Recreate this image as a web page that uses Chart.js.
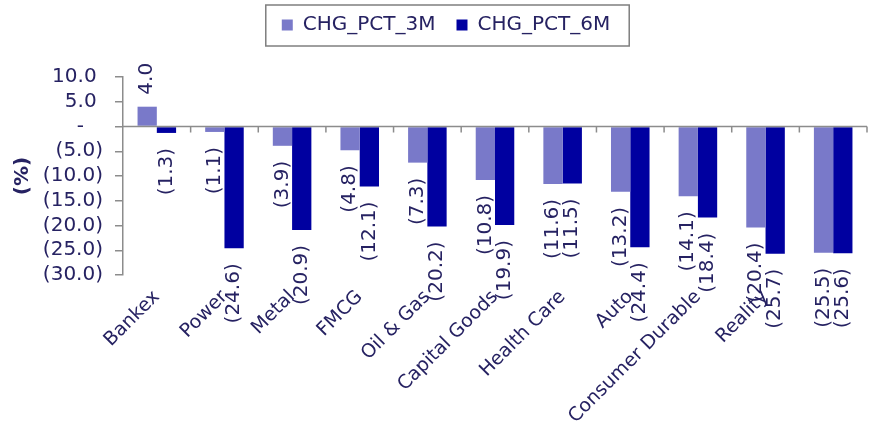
<html>
<script src="https://cdn.jsdelivr.net/npm/chart.js@4.4.0/dist/chart.umd.min.js"></script>
<style>
  body { margin: 0; background: white; }
  #wrap { width: 875px; height: 426px; }
</style>
<body>
  <div id="wrap"><canvas id="sectorChart"></canvas></div>
</body>
<script>
  // sector returns, % change over 3 and 6 months
  var sectors = ["Bankex", "Power", "Metal", "FMCG", "Oil & Gas", "Capital Goods", "Health Care", "Auto", "Consumer Durable", "Reality", ""];
  var chgPct3M = [4.0, -1.1, -3.9, -4.8, -7.3, -10.8, -11.6, -13.2, -14.1, -20.4, -25.5];
  var chgPct6M = [-1.3, -24.6, -20.9, -12.1, -20.2, -19.9, -11.5, -24.4, -18.4, -25.7, -25.6];
  var yTicks = [10, 5, 0, -5, -10, -15, -20, -25, -30];

  var textColor = "#262262";
  var axisColor = "#8c8c8c";
  var fontFamily = "'DejaVu Sans', sans-serif";
  var fontSize = 20;

  function fmtValue(v) {
    if (v == 0) return "-";
    if (v < 0) return "(" + Math.abs(v).toFixed(1) + ")";
    return v.toFixed(1);
  }

  // excel style: positives leave room for the ")" so they line up
  function fmtTick(v) {
    if (v == 0) return "-\u2007\u2008";
    if (v > 0) return v.toFixed(1) + "\u2008";
    return fmtValue(v);
  }

  // zero line with the little category ticks under it
  var zeroLine = {
    id: "zeroLine",
    afterDatasetsDraw: function(chart) {
      var ctx = chart.ctx;
      var xs = chart.scales.x;
      var y0 = chart.scales.y.getPixelForValue(0);
      ctx.save();
      ctx.strokeStyle = axisColor;
      ctx.lineWidth = 1.5;
      ctx.beginPath();
      ctx.moveTo(chart.chartArea.left, y0);
      ctx.lineTo(chart.chartArea.right, y0);
      for (var i = 1; i <= sectors.length; i++) {
        var bx = xs.getPixelForValue(i - 0.5);
        ctx.moveTo(bx, y0);
        ctx.lineTo(bx, y0 + 6);
      }
      ctx.stroke();
      ctx.restore();
    }
  };

  // rotated value labels at the end of every bar
  var barLabels = {
    id: "barLabels",
    afterDatasetsDraw: function(chart) {
      var ctx = chart.ctx;
      ctx.save();
      ctx.fillStyle = textColor;
      ctx.font = fontSize + "px " + fontFamily;
      ctx.textBaseline = "middle";
      chart.data.datasets.forEach(function(ds, di) {
        var meta = chart.getDatasetMeta(di);
        meta.data.forEach(function(bar, i) {
          var v = ds.data[i];
          ctx.save();
          if (v >= 0) {
            ctx.translate(bar.x, bar.y - 12);
            ctx.rotate(-Math.PI / 2);
            ctx.textAlign = "left";
          } else {
            ctx.translate(bar.x, bar.y + 15);
            ctx.rotate(-Math.PI / 2);
            ctx.textAlign = "right";
          }
          ctx.fillText(fmtValue(v), 0, 0);
          ctx.restore();
        });
      });
      ctx.restore();
    }
  };

  // legend sits a bit right of centre in the original
  var legendShift = {
    id: "legendShift",
    afterLayout: function(chart) {
      chart.legend.left += 18;
    }
  };

  // grey frame round the legend
  var legendFrame = {
    id: "legendFrame",
    afterDraw: function(chart) {
      var boxes = chart.legend.legendHitBoxes;
      if (!boxes || !boxes.length) return;
      var left = Math.min.apply(null, boxes.map(b => b.left)) - 16;
      var right = Math.max.apply(null, boxes.map(b => b.left + b.width)) + 19;
      var top = boxes[0].top - 10;
      var bottom = boxes[0].top + boxes[0].height + 11;
      var ctx = chart.ctx;
      ctx.save();
      ctx.strokeStyle = "#7f7f7f";
      ctx.lineWidth = 1.5;
      ctx.strokeRect(left, top, right - left, bottom - top);
      ctx.restore();
    }
  };

  var ctx = document.getElementById("sectorChart");
  var sectorChart = new Chart(ctx, {
    type: "bar",
    data: {
      labels: sectors,
      datasets: [
        {
          label: "CHG_PCT_3M\u2002",
          backgroundColor: "#7979c9",
          data: chgPct3M
        },
        {
          label: "CHG_PCT_6M",
          backgroundColor: "#0000a0",
          data: chgPct6M
        }
      ]
    },
    options: {
      responsive: true,
      maintainAspectRatio: false,
      animation: false,
      devicePixelRatio: 1,
      categoryPercentage: 0.57,
      barPercentage: 1.0,
      layout: { padding: { left: 7, right: 8, top: 4, bottom: 0 } },
      plugins: {
        tooltip: { enabled: false },
        legend: {
          position: "top",
          labels: {
            color: textColor,
            font: { family: fontFamily, size: fontSize },
            boxWidth: 11,
            boxHeight: 11,
            padding: 11
          }
        }
      },
      scales: {
        x: {
          grid: { display: false },
          border: { display: false },
          ticks: {
            color: textColor,
            font: { family: fontFamily, size: 19 },
            minRotation: 45,
            maxRotation: 45,
            autoSkip: false,
            padding: 3
          },
          afterFit: function(s) { s.height = 151; }
        },
        xTop: {
          type: "category",
          position: "top",
          grid: { display: false },
          border: { display: false },
          ticks: { display: false },
          afterFit: function(s) { s.height = 32; }
        },
        y: {
          min: -30,
          max: 10,
          afterBuildTicks: function(s) {
            s.ticks = yTicks.map(v => ({ value: v }));
          },
          ticks: {
            color: textColor,
            font: { family: fontFamily, size: fontSize },
            padding: 12,
            autoSkip: false,
            callback: function(v) { return fmtTick(v); }
          },
          grid: { drawOnChartArea: false, drawTicks: true, tickLength: 8, color: axisColor, lineWidth: 1.5 },
          border: { color: axisColor, width: 1.5 },
          title: {
            display: true,
            text: "(%)",
            color: textColor,
            font: { family: fontFamily, size: fontSize, weight: "bold" }
          },
          afterFit: function(s) { s.width = 116; }
        }
      }
    },
    plugins: [legendShift, zeroLine, barLabels, legendFrame]
  });
</script>
</html>
